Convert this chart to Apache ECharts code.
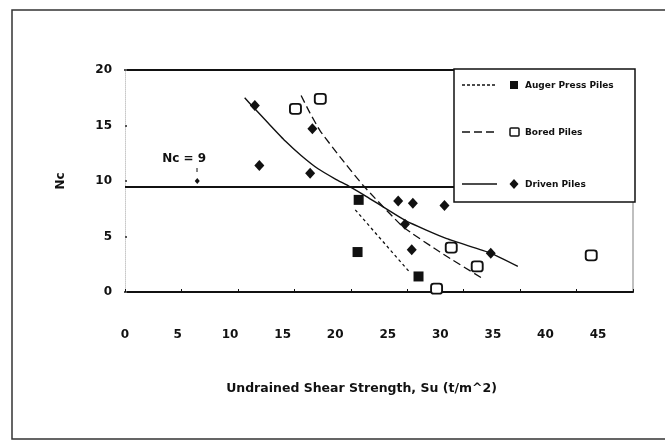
<!DOCTYPE html>
<html>
<head>
<meta charset="utf-8">
<script src="https://cdn.jsdelivr.net/npm/echarts@6/dist/echarts.min.js"></script>
<style>
html,body{margin:0;padding:0;background:#fff;}
#chart{width:665px;height:442px;}
</style>
</head>
<body>
<div id="chart"></div>
<script>
// ---- data ----
const xTicks = [0,5,10,15,20,25,30,35,40,45];
const yTicks = [0,5,10,15,20];

const augerX = [20.7, 20.6, 26.0];
const augerY = [8.3, 3.6, 1.4];

const boredX = [15.1, 17.3, 27.6, 28.9, 31.2, 41.3];
const boredY = [16.5, 17.4, 0.3, 4.0, 2.3, 3.3];

const drivenX = [11.5, 11.9, 16.6, 16.4, 24.2, 25.5, 28.3, 24.8, 25.4, 32.4];
const drivenY = [16.8, 11.4, 14.7, 10.7, 8.2, 8.0, 7.8, 6.1, 3.8, 3.5];

const ncPointX = [6.4];
const ncPointY = [10.0];
const ncLevel = 9.5;

const augerFitX = [20.4, 25.2];
const augerFitY = [7.4, 1.8];

const boredFitX = [15.6, 16.4, 17.3, 19.1, 21.1, 24.6, 27.9, 31.7];
const boredFitY = [17.7, 16.1, 14.5, 12.1, 9.6, 5.9, 3.6, 1.2];

const drivenFitX = [10.6, 11.5, 12.7, 14.2, 15.6, 17.1, 18.6, 19.9, 21.4, 24.9, 28.5, 32.4, 34.8];
const drivenFitY = [17.5, 16.5, 15.2, 13.6, 12.3, 11.1, 10.2, 9.5, 8.6, 6.4, 4.8, 3.5, 2.3];

const legendNames = ['Auger Press Piles', 'Bored Piles', 'Driven Piles'];

const zip = (xs, ys) => xs.map((x, i) => [x, ys[i]]);

const FONT = 'DejaVu Sans';
const INK = '#111';

const chart = echarts.init(document.getElementById('chart'), null, {renderer: 'canvas'});

const legendRows = [85, 132, 184];
const legendDash = [[3, 2], [8, 4], 'solid'];
const legendGraphics = [];
legendGraphics.push({
  type: 'rect', z: 100,
  shape: {x: 454, y: 69, width: 181, height: 133},
  style: {fill: '#fff', stroke: INK, lineWidth: 1.5}
});
legendRows.forEach((y, i) => {
  legendGraphics.push({
    type: 'line', z: 101,
    shape: {x1: 462, y1: y, x2: 497, y2: y},
    style: {stroke: INK, lineWidth: 1.3, lineDash: legendDash[i] === 'solid' ? null : legendDash[i]}
  });
  if (i === 0) {
    legendGraphics.push({type: 'rect', z: 101, shape: {x: 510, y: y - 4, width: 8, height: 8}, style: {fill: INK}});
  } else if (i === 1) {
    legendGraphics.push({type: 'rect', z: 101, shape: {x: 510, y: y - 4, width: 9, height: 8, r: 1}, style: {fill: '#fff', stroke: INK, lineWidth: 1.5}});
  } else {
    legendGraphics.push({type: 'polygon', z: 101, shape: {points: [[514, y - 5], [518.5, y], [514, y + 5], [509.5, y]]}, style: {fill: INK}});
  }
  legendGraphics.push({
    type: 'text', z: 101,
    style: {x: 525, y: y + 1, text: legendNames[i], fill: INK, font: 'bold 9px "' + FONT + '"', verticalAlign: 'middle'}
  });
});

const option = {
  backgroundColor: '#fff',
  animation: false,
  grid: [
    {left: 125, right: 32, top: 70, bottom: 150},
    {left: 125, width: 473, top: 70, bottom: 150}
  ],
  xAxis: [
    {
      type: 'value', gridIndex: 0, min: 0, max: 45, interval: 5,
      axisLine: {show: true, onZero: false, lineStyle: {color: INK, width: 2}},
      axisTick: {show: true, inside: true, length: 3, lineStyle: {color: INK}},
      axisLabel: {show: false},
      splitLine: {show: false}
    },
    {
      type: 'value', gridIndex: 0, position: 'top', min: 0, max: 45, interval: 5,
      axisLine: {show: true, onZero: false, lineStyle: {color: INK, width: 2}},
      axisTick: {show: false}, axisLabel: {show: false}, splitLine: {show: false}
    },
    {
      type: 'value', gridIndex: 1, min: 0, max: 45, interval: 5,
      axisLine: {show: false}, axisTick: {show: false}, splitLine: {show: false},
      axisLabel: {show: true, margin: 37, color: INK, fontFamily: FONT, fontWeight: 'bold', fontSize: 12,
        formatter: v => xTicks.includes(v) ? String(v) : ''},
      name: 'Undrained Shear Strength, Su (t/m^2)',
      nameLocation: 'middle', nameGap: 90,
      nameTextStyle: {color: INK, fontFamily: FONT, fontWeight: 'bold', fontSize: 12.5}
    }
  ],
  yAxis: [
    {
      type: 'value', gridIndex: 0, min: 0, max: 20, interval: 5,
      axisLine: {show: true, onZero: false, lineStyle: {color: '#c8c8c8', width: 1, type: 'dotted'}},
      axisTick: {show: true, inside: true, length: 2, lineStyle: {color: '#555', width: 2}},
      axisLabel: {show: true, margin: 13, color: INK, fontFamily: FONT, fontWeight: 'bold', fontSize: 12,
        formatter: v => yTicks.includes(v) ? String(v) : ''},
      splitLine: {show: false},
      name: 'Nc', nameLocation: 'middle', nameGap: 58, nameRotate: 90,
      nameTextStyle: {color: INK, fontFamily: FONT, fontWeight: 'bold', fontSize: 12}
    },
    {
      type: 'value', gridIndex: 0, position: 'right', min: 0, max: 20, interval: 5,
      axisLine: {show: true, onZero: false, lineStyle: {color: '#aaa', width: 1.5}},
      axisTick: {show: false}, axisLabel: {show: false}, splitLine: {show: false}
    },
    {
      type: 'value', gridIndex: 1, min: 0, max: 20, show: false
    }
  ],
  series: [
    {
      name: 'Nc level', type: 'line', xAxisIndex: 0, yAxisIndex: 0,
      data: [], symbol: 'none',
      markLine: {
        silent: true, symbol: 'none', label: {show: false},
        lineStyle: {color: INK, width: 2, type: 'solid'},
        data: [{yAxis: ncLevel}]
      }
    },
    {
      name: 'Auger Press Piles fit', type: 'line', xAxisIndex: 0, yAxisIndex: 0,
      data: zip(augerFitX, augerFitY), symbol: 'none',
      lineStyle: {color: INK, width: 1.3, type: [3, 3]}
    },
    {
      name: 'Bored Piles fit', type: 'line', xAxisIndex: 0, yAxisIndex: 0,
      data: zip(boredFitX, boredFitY), symbol: 'none', smooth: 0.15,
      lineStyle: {color: INK, width: 1.3, type: [8, 4]}
    },
    {
      name: 'Driven Piles fit', type: 'line', xAxisIndex: 0, yAxisIndex: 0,
      data: zip(drivenFitX, drivenFitY), symbol: 'none', smooth: 0.15,
      lineStyle: {color: INK, width: 1.4, type: 'solid'}
    },
    {
      name: 'Auger Press Piles', type: 'scatter', xAxisIndex: 0, yAxisIndex: 0,
      data: zip(augerX, augerY), symbol: 'rect', symbolSize: 10,
      itemStyle: {color: INK, opacity: 1}
    },
    {
      name: 'Bored Piles', type: 'scatter', xAxisIndex: 0, yAxisIndex: 0,
      data: zip(boredX, boredY), symbol: 'roundRect', symbolSize: [11, 10],
      itemStyle: {color: '#fff', borderColor: INK, borderWidth: 1.8, opacity: 1}
    },
    {
      name: 'Driven Piles', type: 'scatter', xAxisIndex: 0, yAxisIndex: 0,
      data: zip(drivenX, drivenY), symbol: 'diamond', symbolSize: [10, 11],
      itemStyle: {color: INK, opacity: 1}
    },
    {
      name: 'Nc = 9', type: 'scatter', xAxisIndex: 0, yAxisIndex: 0,
      data: zip(ncPointX, ncPointY), symbol: 'diamond', symbolSize: [5, 6],
      itemStyle: {color: INK, opacity: 1},
      label: {show: true, position: 'top', distance: 13, offset: [-13, 0],
        formatter: 'Nc = 9', color: INK, fontFamily: FONT, fontWeight: 'bold', fontSize: 12}
    }
  ],
  graphic: [
    {type: 'rect', z: 0, silent: true,
     shape: {x: 12, y: 10, width: 660, height: 429},
     style: {fill: null, stroke: '#333', lineWidth: 1.5}},
    {type: 'line', z: 50, shape: {x1: 197, y1: 168, x2: 197, y2: 172}, style: {stroke: INK, lineWidth: 1}}
  ].concat(legendGraphics)
};

chart.setOption(option);
</script>
</body>
</html>
